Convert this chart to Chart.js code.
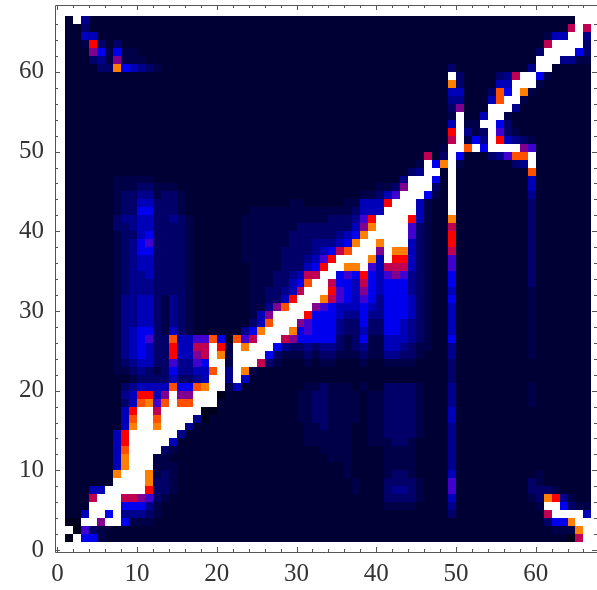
<!DOCTYPE html>
<html>
<head>
<meta charset="utf-8">
<script src="https://cdn.jsdelivr.net/npm/chart.js@4"></script>
<style>
  html, body { margin: 0; padding: 0; background: #fff; }
  #wrap { width: 597px; height: 590px; overflow: hidden; }
  canvas { filter: blur(0.45px); }
</style>
</head>
<body>
<div id="wrap"><canvas id="chart-1" width="597" height="590"></canvas></div>
<script>
// tick marks and labels
const tickValues = [0, 2, 4, 6, 8, 10, 12, 14, 16, 18, 20, 22, 24, 26, 28, 30, 32, 34, 36, 38, 40, 42, 44, 46, 48, 50, 52, 54, 56, 58, 60, 62, 64, 66];
const labelledTicks = [0, 10, 20, 30, 40, 50, 60];

// colour of each level, darkest to brightest
const levelKeys = '0123456789abcd';
const levelColors = ['#00001c', '#000034', '#000048', '#000068', '#00008c', '#0000b8', '#0000ee',
  '#4000d0', '#800090', '#c00050', '#ff0000', '#ff5000', '#ff8000', '#ffffff'];

// heat levels, top row is y = 66, bottom row is y = 1
// groups are columns 1-10, 11-20, ... 61-66
const firstRowY = 66;
const cellRows = [
  '1d41111111 1111111111 1111111111 1111111111 1111111111 1111111111 1111dd',
  '1131111111 1111111111 1111111111 1111111111 1111111111 1111111111 1119d9',
  '1155111111 1111111111 1111111111 1111111111 1111111111 1111111111 255dd4',
  '112a313111 1111111111 1111111111 1111111111 1111111111 1111111111 9dddd3',
  '1118626221 1111111111 1111111111 1111111111 1111111111 1111111113 dddd63',
  '1113428222 1111111111 1111111111 1111111111 1111111111 111111111d dd4422',
  '111133c654 3211111111 1111111111 1111111111 1111111131 111111114d d11111',
  '1111111111 1111111111 1111111111 1111111111 11111111d3 1111349dd6 211111',
  '1111111111 1111111111 1111111111 1111111111 11111111c3 111155ddd2 111111',
  '1111111111 1111111111 1111111111 1111111111 1111111155 1113b6dc21 111111',
  '1111111111 1111111111 1111111111 1111111111 1111111144 1115bdd211 111111',
  '1111111111 1111111111 1111111111 1111111111 1111111138 111ddd4111 111111',
  '1111111111 1111111111 1111111111 1111111111 111111112d 115dd21111 111111',
  '1111111111 1111111111 1111111111 1111111111 111111115d 22dd631111 111111',
  '1111111111 1111111111 1111111111 1111111111 11111111ad 423d732111 111111',
  '1111111111 1111111111 1111111111 1111111111 111111119d 264da54321 111111',
  '1111111111 1111111111 1111111111 1111111111 11111112dd bd6dddd871 111111',
  '1111111111 1111111111 1111111111 1111111111 11111913d6 111347bbd1 111111',
  '1111111111 1111111111 1111111111 1111111111 11112d6cd2 11111134d1 111111',
  '1111111111 1111111111 1111111111 1111111111 11134dd1d1 11111111b1 111111',
  '1111112222 2111111111 1111111111 1111111111 114ddd61d1 1111111151 111111',
  '1111112223 3222111111 1111111111 1111111112 238ddd31d1 1111111151 111111',
  '1111112334 4233211111 1111111111 1111111223 57ddd621d1 1111111141 111111',
  '1111112335 5333211111 1111111122 1111122555 addd5211d1 1111111131 111111',
  '1111112336 6333211111 1112222222 2222223555 dddd5211d1 1111111131 111111',
  '1111113445 5334321111 1122222222 22233347ad ddda5211c1 1111111131 111111',
  '1111113345 5333321111 1122222223 33333358cd ddd7321191 1111111131 111111',
  '1111112335 6333321111 1122222233 3333456cdd ddd73211a1 1111111131 111111',
  '1111112346 7333321111 1122222233 344456cddc ddd53211a1 1111111131 111111',
  '1111112346 6333321111 1122222333 34569bddd8 dcc5321191 1111111131 111111',
  '1111112345 5333321111 1122222333 457addddc5 daa5321171 1111111131 111111',
  '1111112345 5333321111 1112222333 56addccd75 9995321171 1111111131 111111',
  '1111112344 5333321111 1112223345 99dd676a65 7874321161 1111111131 111111',
  '1111112344 4333321111 1112223356 bdd9665965 6664321161 1111111131 111111',
  '1111112344 4333321111 1112233459 ddda765865 6664321151 1111111121 111111',
  '1111112445 5324321111 11122335ad ddc9765764 6665321161 1111111121 111111',
  '1111112445 5324321111 1112248bdd d876555654 6665321151 1111111121 111111',
  '1111112445 5324321111 111258dddd a666544644 6665321151 1111111121 111111',
  '1111112445 5324321111 11135bddd8 7666433633 6654321151 1111111121 111111',
  '1111112456 6325321111 1146cdddc6 7666433533 6654321151 1111111121 111111',
  '1111112456 733b5577b6 0b79ddd986 6666323622 5554321161 1111111121 111111',
  '1111112456 533a5599da 2dcddd6433 4344323422 5543221141 1111111121 111111',
  '1111112456 533a5589dc 2dddd63222 3233222322 4433211141 1111111121 111111',
  '1111112345 53374476dd 2ddd932111 2122111211 2222111131 1111111111 111111',
  '1111112234 32364455bd 4dc2111111 1111111111 1111111131 1111111111 111111',
  '1111111123 33353345dd 4d51111111 1111111111 1111111131 1111111111 111111',
  '1111111345 555b66bcdd 2511111111 2232221211 3333211141 1111111121 111111',
  '111111145a a58d88ddd0 1111111112 2332222122 3333211141 1111111121 111111',
  '111111135b c7bdbbddd1 1111111112 2332222122 3333211141 1111111121 111111',
  '11111115ad d9ddddd001 1111111112 2332222122 3333211151 1111111111 111111',
  '11111115bd dbdddd4011 1111111112 2332222122 3333211151 1111111111 111111',
  '11111115cd dcddd41111 1111111111 2232221122 3333211141 1111111111 111111',
  '1111115add dddd411111 1111111111 2222221122 3333211141 1111111111 111111',
  '1111115add ddd5111111 1111111111 2222221122 2332111141 1111111111 111111',
  '1111115bdd dd32111111 1111111111 1122221111 2222111141 1111111111 111111',
  '1111115cdd d221111111 1111111111 1112221111 2222111141 1111111111 111111',
  '1111115cdd d222111111 1111111111 1111121111 2222111141 1111111111 111111',
  '111111cddd c232111111 1111111111 1111121111 2332111151 1111111112 111111',
  '111111dddd c332111111 1111111111 1111112111 3333211171 1111111132 111111',
  '11155ddddd a332111111 1111111111 1111112111 3443211171 1111111133 321111',
  '1119ddd998 7321111111 1111111111 1111111111 3333211151 1111111123 ca4211',
  '111dddd666 4211111111 1111111111 1111111111 2222111141 1111111112 dd6322',
  '115dd6d444 3211111111 1111111111 1111111111 1111111131 1111111111 9dddd5',
  '00dd8dd622 2111111111 1111111111 1111111111 1111111111 1111111111 366cdd',
  'd073211111 1111111111 1111111111 1111111111 1111111111 1111111111 1222cd',
  '0d66211111 1111111111 1111111111 1111111111 1111111111 1111111111 11109d'
];

// one point per cell, x and y are the lower left corner
const cells = [];
cellRows.forEach((row, r) => {
  row.replace(/ /g, '').split('').forEach((key, c) => {
    cells.push({ x: c + 1, y: firstRowY - r, v: levelKeys.indexOf(key) });
  });
});

// draws each cell as a rectangle using the chart scales
const heatCells = {
  id: 'heatCells',
  beforeDatasetsDraw(chart) {
    const { ctx, scales: { x, y } } = chart;
    ctx.save();
    chart.data.datasets[0].data.forEach(cell => {
      const left = Math.round(x.getPixelForValue(cell.x));
      const right = Math.round(x.getPixelForValue(cell.x + 1));
      const top = Math.round(y.getPixelForValue(cell.y + 1));
      const bottom = Math.round(y.getPixelForValue(cell.y));
      ctx.fillStyle = levelColors[cell.v];
      ctx.fillRect(left, top, right - left, bottom - top);
    });
    ctx.restore();
  }
};

// mathematica style frame with ticks pointing inwards on all four sides
const frameTicks = {
  id: 'frameTicks',
  afterDraw(chart) {
    const { ctx, chartArea: a, scales: { x, y } } = chart;
    ctx.save();
    ctx.strokeStyle = '#555';
    ctx.lineWidth = 1;
    ctx.beginPath();
    ctx.rect(a.left + 0.5, a.top + 0.5, a.right - a.left, a.bottom - a.top);
    tickValues.forEach(v => {
      const len = labelledTicks.includes(v) ? 5 : 3;
      const px = Math.round(x.getPixelForValue(v)) + 0.5;
      const py = Math.round(y.getPixelForValue(v)) + 0.5;
      ctx.moveTo(px, a.bottom); ctx.lineTo(px, a.bottom - len);
      ctx.moveTo(px, a.top); ctx.lineTo(px, a.top + len);
      ctx.moveTo(a.left, py); ctx.lineTo(a.left + len, py);
      ctx.moveTo(a.right, py); ctx.lineTo(a.right - len, py);
    });
    ctx.stroke();
    ctx.restore();
  }
};

const tickFont = { family: '"Liberation Serif", serif', size: 25 };

const axisTicks = {
  autoSkip: false,
  maxRotation: 0,
  color: '#333',
  font: tickFont,
  callback: v => (labelledTicks.includes(v) ? String(v) : '')
};

// keep the plot box fixed, no extra room for half a tick label
const noScalePadding = scale => {
  scale.paddingTop = 0;
  scale.paddingBottom = 0;
  scale.paddingLeft = 0;
  scale.paddingRight = 0;
};

const config = {
  type: 'scatter',
  data: {
    datasets: [{ label: 'levels', data: cells, pointRadius: 0, pointHitRadius: 0 }]
  },
  options: {
    responsive: false,
    animation: false,
    events: [],
    layout: { padding: { top: 5, right: 0, left: 0, bottom: 0 } },
    plugins: { legend: { display: false }, tooltip: { enabled: false } },
    scales: {
      x: {
        type: 'linear',
        min: -0.3,
        max: 67.7,
        afterBuildTicks: scale => { scale.ticks = tickValues.map(v => ({ value: v })); },
        afterFit: scale => { scale.height = 38; noScalePadding(scale); },
        grid: { display: false },
        border: { display: false },
        ticks: { ...axisTicks, padding: -1 }
      },
      y: {
        type: 'linear',
        min: -0.25,
        max: 68.4,
        afterBuildTicks: scale => { scale.ticks = tickValues.map(v => ({ value: v })); },
        afterFit: scale => { scale.width = 55; noScalePadding(scale); },
        grid: { display: false },
        border: { display: false },
        ticks: { ...axisTicks, padding: 3 }
      }
    }
  },
  plugins: [heatCells, frameTicks]
};

const ctx = document.getElementById('chart-1').getContext('2d');
const heatChart = new Chart(ctx, config);
</script>
</body>
</html>
